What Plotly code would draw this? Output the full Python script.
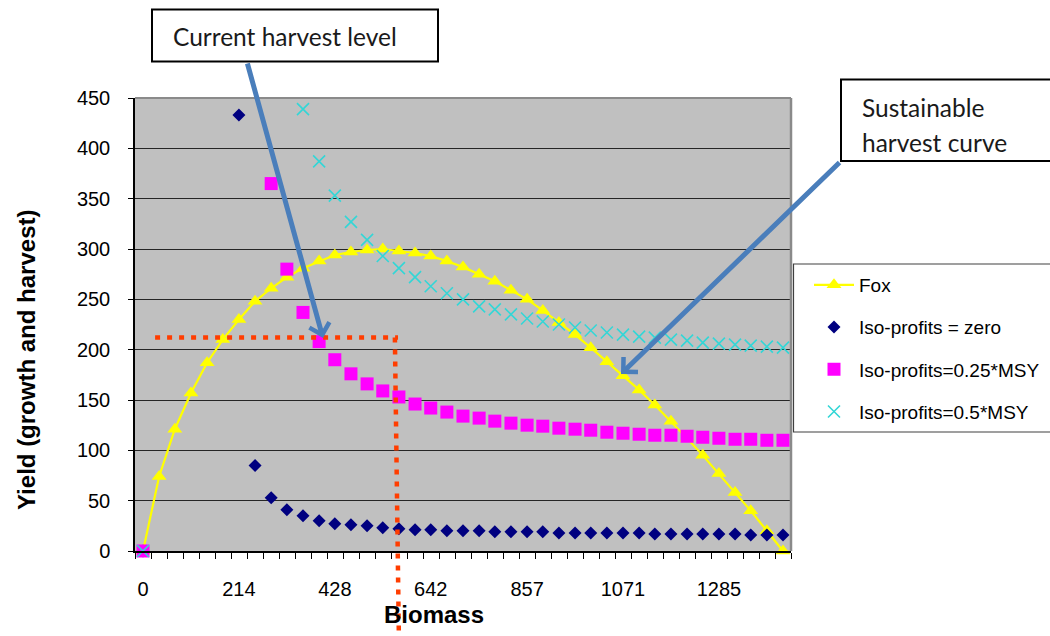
import plotly.graph_objects as go

# Biomass categories (x) and yield / iso-profit harvest series (y)
biomass = [0, 36, 71, 107, 143, 178, 214, 250, 286, 321, 357, 393, 428, 464, 500,
           535, 571, 607, 642, 678, 714, 750, 785, 821, 857, 892, 928, 964, 999,
           1035, 1071, 1107, 1142, 1178, 1214, 1249, 1285, 1321, 1356, 1392, 1428]

fox = [0, 74, 121, 157, 187, 210, 230, 248, 261, 272, 281, 288, 294, 297, 299,
       300, 298, 296, 293, 288, 282, 275, 268, 259, 250, 239, 227, 215, 202,
       188, 174, 160, 145, 129, 112, 95, 77, 58, 40, 20, 0]

iso_zero = [0, None, None, None, None, None, 433, 85, 53, 41, 35, 30, 27, 26, 25,
            23, 22, 21, 21, 20, 20, 20, 19, 19, 19, 19, 18, 18, 18,
            18, 18, 18, 17, 17, 17, 17, 17, 17, 16, 16, 16]

iso_q = [0, None, None, None, None, None, None, None, 365, 280, 237, 208, 190, 176, 166,
         159, 153, 146, 142, 138, 134, 132, 129, 127, 125, 124, 122, 121, 120,
         118, 117, 116, 115, 115, 114, 113, 112, 111, 111, 110, 110]

iso_h = [0, None, None, None, None, None, None, None, None, None, 439, 387, 353, 327, 309,
         293, 281, 272, 263, 256, 250, 243, 240, 235, 231, 228, 225, 222, 219,
         217, 215, 213, 212, 210, 209, 207, 206, 205, 204, 203, 202]

tick_labels = ["0", "214", "428", "642", "857", "1071", "1285"]
tick_values = biomass[::6]

harvest_level = 212
harvest_biomass = 565

# plot-area geometry in pixels
W_FIG, H_FIG = 1050, 636
L, R, T, B = 135, 791, 98, 551
PW, PH = R - L, B - T


def px(x):
    return (x - L) / PW


def py(y):
    return (B - y) / PH


half = (biomass[-1] - biomass[0]) / (len(biomass) - 1) / 2
step = 2 * half

ARIAL = "Liberation Sans"
fig = go.Figure()

fig.add_trace(go.Scatter(
    x=biomass, y=fox, name="Fox", mode="lines+markers",
    line=dict(color="#FFFF00", width=2.2),
    marker=dict(symbol="triangle-up", size=13, color="#FFFF00"),
    cliponaxis=False, legendgroup="a"))
fig.add_trace(go.Scatter(
    x=biomass, y=iso_zero, name="Iso-profits = zero", mode="markers",
    marker=dict(symbol="diamond", size=10, color="#000080"),
    cliponaxis=False, legendgroup="b"))
fig.add_trace(go.Scatter(
    x=biomass, y=iso_q, name="Iso-profits=0.25*MSY", mode="markers",
    marker=dict(symbol="square", size=13, color="#FF00FF"),
    cliponaxis=False, legendgroup="c"))
fig.add_trace(go.Scatter(
    x=biomass, y=iso_h, name="Iso-profits=0.5*MSY", mode="markers",
    marker=dict(symbol="x-thin", size=12, color="#33D6D6",
                line=dict(width=1.6, color="#33D6D6")),
    cliponaxis=False, legendgroup="d"))

shapes = []
# grey frame on top and right of the plot area
shapes.append(dict(type="line", xref="paper", yref="paper", x0=0, x1=1, y0=1, y1=1,
                   line=dict(color="#8a8a8a", width=2), layer="above"))
shapes.append(dict(type="line", xref="paper", yref="paper", x0=1, x1=1, y0=0, y1=1,
                   line=dict(color="#8a8a8a", width=2.5), layer="above"))

# dotted harvest guides
red = dict(color="#FF3D00", width=4.5, dash="5px,7px")
shapes.append(dict(type="line", xref="x", yref="y", x0=27, x1=harvest_biomass + 4,
                   y0=harvest_level, y1=harvest_level, line=red, layer="above"))
shapes.append(dict(type="line", xref="x", yref="paper", x0=harvest_biomass - 3,
                   x1=harvest_biomass + 6, y0=harvest_level / 450, y1=py(640),
                   line=red, layer="above"))

# callout boxes
shapes.append(dict(type="rect", xref="paper", yref="paper",
                   x0=px(152), x1=px(438), y0=py(9.5), y1=py(61.5),
                   line=dict(color="#000000", width=2), fillcolor="white", layer="above"))
shapes.append(dict(type="rect", xref="paper", yref="paper",
                   x0=px(841), x1=px(1070), y0=py(79.5), y1=py(161),
                   line=dict(color="#000000", width=2), fillcolor="white", layer="above"))
# legend frame
shapes.append(dict(type="rect", xref="paper", yref="paper",
                   x0=px(793.5), x1=px(1070), y0=py(264), y1=py(432),
                   line=dict(color="#404040", width=1.2), fillcolor="white", layer="above"))

CAL = "Lato"
annotations = [
    dict(text="Current harvest level", xref="paper", yref="paper",
         x=px(171), y=py(37), xanchor="left", yanchor="middle", showarrow=False,
         font=dict(family=CAL, size=24.5, color="#1a1a1a")),
    dict(text="Sustainable", xref="paper", yref="paper",
         x=px(860), y=py(107), xanchor="left", yanchor="middle", showarrow=False,
         font=dict(family=CAL, size=24.5, color="#1a1a1a")),
    dict(text="harvest curve", xref="paper", yref="paper",
         x=px(860), y=py(143), xanchor="left", yanchor="middle", showarrow=False,
         font=dict(family=CAL, size=24.5, color="#1a1a1a")),
    # arrows
    dict(text="", xref="paper", yref="paper", x=px(323), y=py(338),
         ax=247 - 323, ay=62 - 338, showarrow=True, arrowhead=4, arrowsize=0.8,
         arrowwidth=5, arrowcolor="#4A7EBB", standoff=0),
    dict(text="", xref="paper", yref="paper", x=px(621), y=py(374),
         ax=841 - 621, ay=161 - 374, showarrow=True, arrowhead=4, arrowsize=0.8,
         arrowwidth=5, arrowcolor="#4A7EBB", standoff=0),
    # axis titles
    dict(text="Yield (growth and harvest)", xref="paper", yref="paper",
         x=px(26), y=py(360), textangle=-90, showarrow=False,
         xanchor="center", yanchor="middle",
         font=dict(family=ARIAL, size=24, color="black", weight="bold")),
    dict(text="Biomass", xref="paper", yref="paper",
         x=px(434), y=py(614), showarrow=False, xanchor="center", yanchor="middle",
         font=dict(family=ARIAL, size=24, color="black", weight="bold")),
]

fig.update_layout(
    width=W_FIG, height=H_FIG,
    margin=dict(l=L, r=W_FIG - R, t=T, b=H_FIG - B, autoexpand=False),
    paper_bgcolor="white", plot_bgcolor="#C0C0C0",
    font=dict(family=ARIAL, size=20, color="black"),
    showlegend=True,
    legend=dict(x=px(809), y=py(266), xanchor="left", yanchor="top",
                bgcolor="rgba(0,0,0,0)", borderwidth=0,
                font=dict(family=ARIAL, size=19, color="black"),
                traceorder="grouped", tracegroupgap=14.5, itemwidth=40),
    shapes=shapes, annotations=annotations,
    xaxis=dict(range=[biomass[0] - half, biomass[-1] + half],
               tickmode="array", tickvals=tick_values, ticktext=tick_labels,
               ticks="", showgrid=False, zeroline=False,
               showline=True, linecolor="black", linewidth=1.5,
               ticklabelstandoff=19,
               tickfont=dict(family=ARIAL, size=20),
               minor=dict(tickmode="linear", tick0=biomass[0] - half, dtick=step,
                          ticks="outside", ticklen=6, tickwidth=1, tickcolor="black",
                          showgrid=False)),
    yaxis=dict(range=[0, 450], dtick=50, ticks="outside", ticklen=5,
               tickcolor="black", showgrid=True, gridcolor="#262626", gridwidth=1.4,
               zeroline=False, showline=True, linecolor="black", linewidth=1.5,
               ticklabelstandoff=14,
               tickfont=dict(family=ARIAL, size=20)),
)

fig.write_html("out.html")
